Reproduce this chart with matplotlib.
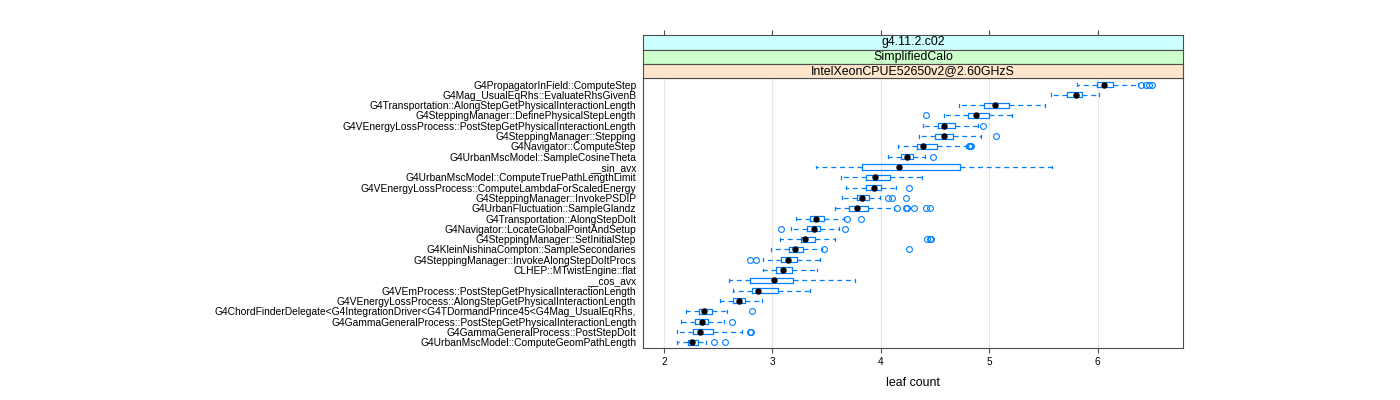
import matplotlib
matplotlib.use("Agg")
import matplotlib.pyplot as plt

plt.rcParams['font.family'] = ['Liberation Sans', 'DejaVu Sans']

categories = [
    "G4PropagatorInField::ComputeStep",
    "G4Mag_UsualEqRhs::EvaluateRhsGivenB",
    "G4Transportation::AlongStepGetPhysicalInteractionLength",
    "G4SteppingManager::DefinePhysicalStepLength",
    "G4VEnergyLossProcess::PostStepGetPhysicalInteractionLength",
    "G4SteppingManager::Stepping",
    "G4Navigator::ComputeStep",
    "G4UrbanMscModel::SampleCosineTheta",
    "__sin_avx",
    "G4UrbanMscModel::ComputeTruePathLengthLimit",
    "G4VEnergyLossProcess::ComputeLambdaForScaledEnergy",
    "G4SteppingManager::InvokePSDIP",
    "G4UrbanFluctuation::SampleGlandz",
    "G4Transportation::AlongStepDoIt",
    "G4Navigator::LocateGlobalPointAndSetup",
    "G4SteppingManager::SetInitialStep",
    "G4KleinNishinaCompton::SampleSecondaries",
    "G4SteppingManager::InvokeAlongStepDoItProcs",
    "CLHEP::MTwistEngine::flat",
    "__cos_avx",
    "G4VEmProcess::PostStepGetPhysicalInteractionLength",
    "G4VEnergyLossProcess::AlongStepGetPhysicalInteractionLength",
    "G4ChordFinderDelegate<G4IntegrationDriver<G4TDormandPrince45<G4Mag_UsualEqRhs,",
    "G4GammaGeneralProcess::PostStepGetPhysicalInteractionLength",
    "G4GammaGeneralProcess::PostStepDoIt",
    "G4UrbanMscModel::ComputeGeomPathLength",
]

whislo = [5.81, 5.57, 4.72, 4.58, 4.39, 4.35, 4.16, 4.07, 3.40, 3.63, 3.68, 3.64, 3.58,
          3.22, 3.17, 3.07, 2.99, 2.91, 2.91, 2.60, 2.64, 2.52, 2.20, 2.16, 2.12, 2.12]
q1 = [5.99, 5.72, 4.95, 4.80, 4.53, 4.50, 4.33, 4.19, 3.83, 3.86, 3.86, 3.78, 3.71,
      3.35, 3.32, 3.26, 3.15, 3.08, 3.03, 2.79, 2.81, 2.64, 2.32, 2.29, 2.27, 2.22]
med = [6.06, 5.80, 5.05, 4.88, 4.58, 4.58, 4.39, 4.24, 4.17, 3.95, 3.94, 3.83, 3.78,
       3.40, 3.38, 3.30, 3.21, 3.14, 3.10, 3.01, 2.87, 2.69, 2.37, 2.35, 2.33, 2.26]
q3 = [6.14, 5.86, 5.18, 5.00, 4.68, 4.67, 4.52, 4.30, 4.73, 4.08, 4.00, 3.89, 3.88,
      3.48, 3.44, 3.39, 3.28, 3.23, 3.18, 3.19, 3.05, 2.75, 2.44, 2.41, 2.45, 2.31]
whishi = [6.37, 6.01, 5.51, 5.21, 4.90, 4.92, 4.79, 4.41, 5.58, 4.38, 4.14, 3.99, 4.12,
          3.66, 3.61, 3.58, 3.46, 3.44, 3.41, 3.76, 3.35, 2.90, 2.58, 2.55, 2.72, 2.39]
outliers = [
    [6.40, 6.45, 6.47, 6.50], [], [], [4.42], [4.94], [5.06], [4.81, 4.82, 4.83], [4.48],
    [], [], [4.26], [4.07, 4.10, 4.23], [4.15, 4.23, 4.24, 4.31, 4.42, 4.45],
    [3.69, 3.82], [3.08, 3.67], [4.43, 4.45, 4.46], [3.48, 4.26], [2.79, 2.85],
    [], [], [], [], [2.81], [2.63], [2.79, 2.80], [2.46, 2.56],
]

strip_labels = ["g4.11.2.c02", "SimplifiedCalo", "IntelXeonCPUE52650v2@2.60GHzS"]
strip_colors = ["#ccffff", "#ccffcc", "#ffe5cc"]
xticks = [2, 3, 4, 5, 6]
xlabel = "leaf count"

BLUE = "#0080ff"
EDGE = "#4d4d4d"
W, H = 1400, 400


def rect(x0, y0, x1, y1):
    return [x0 / W, 1 - y1 / H, (x1 - x0) / W, (y1 - y0) / H]


fig = plt.figure(figsize=(14, 4), dpi=100)
PL, PR, PT, PB = 643.3, 1183.3, 78.4, 348.3
ax = fig.add_axes(rect(PL, PT, PR, PB))

n = len(categories)
pos = [n - i for i in range(n)]
stats = [dict(whislo=whislo[i], q1=q1[i], med=med[i], q3=q3[i], whishi=whishi[i],
              fliers=outliers[i]) for i in range(n)]

ax.bxp(stats, positions=pos, orientation='horizontal', widths=0.5, capwidths=0.28,
       boxprops=dict(color=BLUE, lw=0.9),
       whiskerprops=dict(color=BLUE, lw=0.9, linestyle=(0, (4, 3))),
       capprops=dict(color=BLUE, lw=0.9),
       medianprops=dict(alpha=0),
       flierprops=dict(marker='o', markerfacecolor='none', markeredgecolor=BLUE,
                       markersize=4.2, markeredgewidth=0.8))
ax.plot(med, pos, 'o', color='black', markersize=3.6, zorder=5)

ax.set_xlim(1.809, 6.790)
ax.set_ylim(0.4, n + 0.6)
ax.set_axisbelow(True)
ax.xaxis.grid(True, color='#e6e6e6', lw=0.8)
ax.yaxis.grid(False)
ax.set_xticks(xticks)
ax.set_xticklabels([str(t) for t in xticks], fontsize=7.2)
ax.set_yticks(pos)
ax.set_yticklabels(categories, fontsize=7.4)
ax.tick_params(axis='y', length=0, pad=5)
ax.tick_params(axis='x', length=3.6, width=0.8, color=EDGE, direction='out', pad=3)
for s in ax.spines.values():
    s.set_color(EDGE)
    s.set_linewidth(0.8)

sh = (PT - 35.2) / 3
for i, (lab, col) in enumerate(zip(strip_labels, strip_colors)):
    top = 35.2 + sh * i
    sax = fig.add_axes(rect(PL, top, PR, top + sh))
    sax.set_facecolor(col)
    sax.set_xlim(ax.get_xlim())
    sax.set_ylim(0, 1)
    sax.set_yticks([])
    if i == 0:
        sax.xaxis.set_ticks_position('top')
        sax.set_xticks(xticks)
        sax.set_xticklabels([])
        sax.tick_params(axis='x', length=3.6, width=0.8, color=EDGE, direction='out')
    else:
        sax.set_xticks([])
    for s in sax.spines.values():
        s.set_color(EDGE)
        s.set_linewidth(0.8)
    sax.text(0.5, 0.5, lab, transform=sax.transAxes, ha='center', va='center',
             fontsize=8.9)

fig.text((PL + PR) / 2 / W, 1 - 383.3 / H, xlabel, ha='center', va='center', fontsize=8.9)

fig.savefig("out.png", dpi=100)
